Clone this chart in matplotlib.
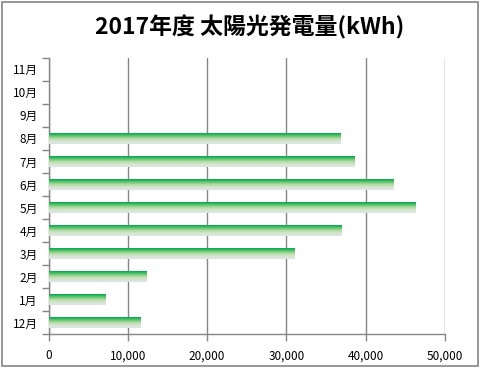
import numpy as np
import matplotlib.pyplot as plt
from matplotlib.colors import LinearSegmentedColormap
from matplotlib.patches import Rectangle
from matplotlib.ticker import FuncFormatter, FixedLocator

plt.rcParams['font.family'] = ['Noto Sans CJK JP', 'DejaVu Sans']

months = ["12月", "1月", "2月", "3月", "4月", "5月", "6月", "7月", "8月", "9月", "10月", "11月"]
kwh = [11600, 7100, 12250, 30950, 36850, 46200, 43500, 38600, 36800, 0, 0, 0]

BAR_H = 0.45
grad = LinearSegmentedColormap.from_list(
    "bar", ["#00a550", "#5cc46c", "#b5dca4", "#d6e6d0", "#dde3ea"])
gradient = np.linspace(0, 1, 64).reshape(-1, 1)

fig = plt.figure(figsize=(4.82, 3.69), dpi=100)
ax = fig.add_axes([0.101, 0.095, 0.822, 0.748])

for i, v in enumerate(kwh):
    if v <= 0:
        continue
    # row 0 (green) goes to the top edge of the bar
    ax.imshow(gradient, cmap=grad, aspect="auto", interpolation="bilinear",
              extent=(0, v, i - BAR_H / 2, i + BAR_H / 2), zorder=3)

ax.set_xlim(0, 50000)
ax.set_ylim(-0.5, len(months) - 0.5)

ax.xaxis.set_major_locator(FixedLocator(range(0, 50001, 10000)))
ax.xaxis.set_major_formatter(FuncFormatter(lambda x, _: f"{int(x):,}"))
ax.set_yticks(range(len(months)))
ax.set_yticklabels(months)
ax.set_yticks(np.arange(-0.5, len(months), 1), minor=True)
ax.tick_params(axis="y", which="major", length=0, pad=8, labelsize=8.5)
ax.tick_params(axis="y", which="minor", length=5, color="#868686", width=1)
ax.tick_params(axis="x", length=5, color="#868686", width=1, labelsize=8.5, pad=6)

ax.grid(axis="x", color="#868686", linewidth=1, zorder=1)
ax.set_axisbelow(True)
for s in ("top", "right"):
    ax.spines[s].set_visible(False)
for s in ("left", "bottom"):
    ax.spines[s].set_color("#868686")
    ax.spines[s].set_linewidth(1)

fig.text(0.518, 0.925, "2017年度 太陽光発電量(kWh)", ha="center", va="center",
         fontsize=16.5, fontweight="bold")

fig.patches.append(Rectangle((1.5 / 482, 3 / 369), 476 / 482, 364 / 369,
                             transform=fig.transFigure, fill=False,
                             edgecolor="#868686", linewidth=1.2))

fig.savefig("out.png", dpi=100)
